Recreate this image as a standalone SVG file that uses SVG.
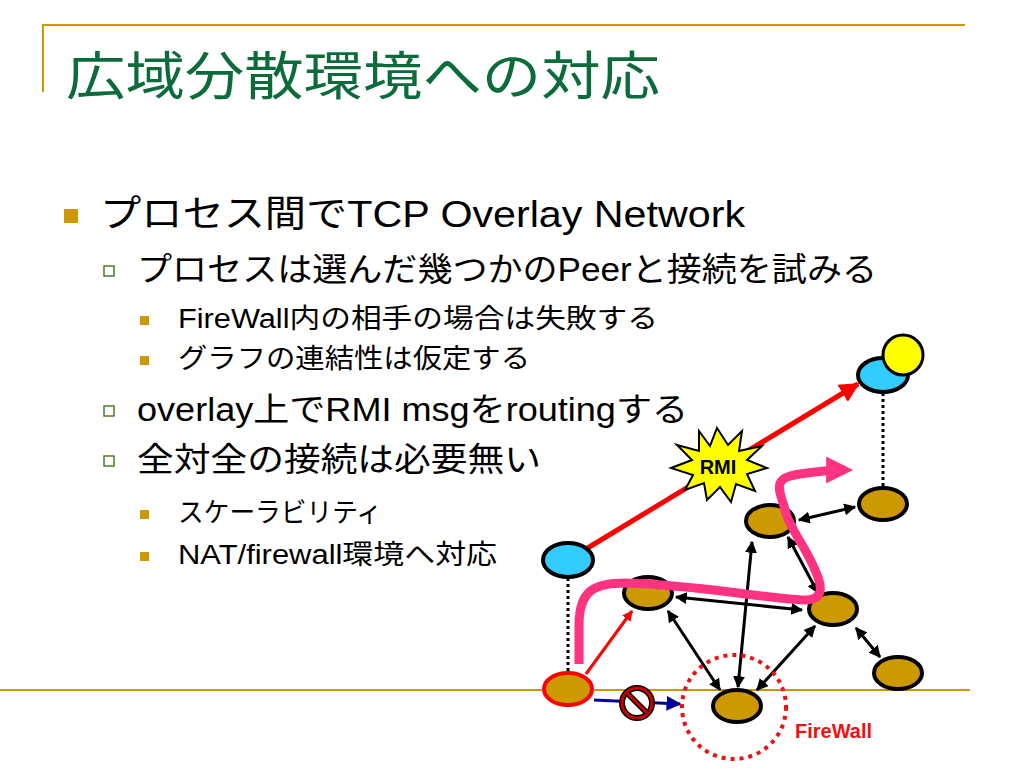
<svg xmlns="http://www.w3.org/2000/svg" width="1024" height="768" viewBox="0 0 1024 768">
<defs>
<style>
.t{font-family:"Liberation Sans","Noto Sans CJK JP",sans-serif;fill:#000}
.nd{fill:#cc9900;stroke:#000;stroke-width:4}
.bl{fill:#33ccff;stroke:#000;stroke-width:4}
.dbl{stroke:#000;stroke-width:3;fill:none;marker-start:url(#ab);marker-end:url(#ab)}
</style>
<marker id="ab" viewBox="0 0 10 10" refX="9" refY="5" markerWidth="4" markerHeight="4" orient="auto-start-reverse"><path d="M0,0L10,5L0,10z" fill="#000"/></marker>
<marker id="ar" viewBox="0 0 10 10" refX="9" refY="5" markerWidth="4" markerHeight="4" orient="auto"><path d="M0,0L10,5L0,10z" fill="#ff0000"/></marker>
<marker id="ar2" viewBox="0 0 10 10" refX="9" refY="5" markerWidth="3.5" markerHeight="3.5" orient="auto"><path d="M0,0L10,5L0,10z" fill="#ff0000"/></marker>
<marker id="ap" viewBox="0 0 10 10" refX="7" refY="5" markerWidth="3" markerHeight="3" orient="auto"><path d="M0,0L10,5L0,10z" fill="#ff3380"/></marker>
<marker id="an" viewBox="0 0 10 10" refX="9" refY="5" markerWidth="5" markerHeight="5" orient="auto"><path d="M0,0L10,5L0,10z" fill="#000099"/></marker>
</defs>
<rect width="1024" height="768" fill="#fff"/>
<g id="frame" stroke="#cc9900" stroke-width="2" fill="none">
<path d="M43,92V25H965"/>
<path d="M0,690H970"/>
</g>
<text class="t" x="66" y="95" font-size="52" textLength="594" lengthAdjust="spacingAndGlyphs" style="fill:#0b6b3a">広域分散環境への対応</text>
<g id="bullets">
<rect x="64" y="209" width="14" height="14" fill="#cc9900"/>
<text class="t" x="100" y="227" font-size="37" textLength="645" lengthAdjust="spacingAndGlyphs">プロセス間でTCP Overlay Network</text>
<rect x="104" y="266" width="10" height="10" fill="#fff" stroke="#4a7a2a" stroke-width="1.5"/>
<text class="t" x="137" y="281" font-size="33" textLength="740" lengthAdjust="spacingAndGlyphs">プロセスは選んだ幾つかのPeerと接続を試みる</text>
<rect x="140" y="316" width="9" height="9" fill="#cc9900"/>
<text class="t" x="178" y="328" font-size="27" textLength="480" lengthAdjust="spacingAndGlyphs">FireWall内の相手の場合は失敗する</text>
<rect x="140" y="356" width="9" height="9" fill="#cc9900"/>
<text class="t" x="178" y="368" font-size="27" textLength="352" lengthAdjust="spacingAndGlyphs">グラフの連結性は仮定する</text>
<rect x="104" y="406" width="10" height="10" fill="#fff" stroke="#4a7a2a" stroke-width="1.5"/>
<text class="t" x="137" y="421" font-size="33" textLength="551" lengthAdjust="spacingAndGlyphs">overlay上でRMI msgをroutingする</text>
<rect x="104" y="456" width="10" height="10" fill="#fff" stroke="#4a7a2a" stroke-width="1.5"/>
<text class="t" x="137" y="471" font-size="33" textLength="404" lengthAdjust="spacingAndGlyphs">全対全の接続は必要無い</text>
<rect x="140" y="510" width="9" height="9" fill="#cc9900"/>
<text class="t" x="178" y="522" font-size="27" textLength="204" lengthAdjust="spacingAndGlyphs">スケーラビリティ</text>
<rect x="140" y="552" width="9" height="9" fill="#cc9900"/>
<text class="t" x="178" y="564" font-size="27" textLength="319" lengthAdjust="spacingAndGlyphs">NAT/firewall環境へ対応</text>
</g>
<g id="connectors">
<path d="M883,393V487" stroke="#000" stroke-width="3" stroke-dasharray="3,3"/>
<path d="M568,578V672" stroke="#000" stroke-width="3" stroke-dasharray="3,3"/>
<path d="M586,549L858,384" stroke="#ff0000" stroke-width="5" marker-end="url(#ar)"/>
<path d="M586,674L632,611" stroke="#ff0000" stroke-width="3" marker-end="url(#ar2)"/>
<path d="M594,700L680,704" stroke="#000099" stroke-width="3" marker-end="url(#an)"/>
<path class="dbl" d="M799,520L855,507"/>
<path class="dbl" d="M752,542L738,687"/>
<path class="dbl" d="M668,611L720,690"/>
<path class="dbl" d="M815,626L757,690"/>
<path class="dbl" d="M856,628L880,657"/>
<path class="dbl" d="M676,597L802,610"/>
<path class="dbl" d="M788,537L818,593"/>
</g>
<g id="nodes">
<ellipse id="n-top" class="bl" cx="883" cy="375" rx="25" ry="17"/>
<circle id="n-yellow" cx="903" cy="355" r="20" fill="#ffff00" stroke="#000" stroke-width="3"/>
<ellipse id="n-blue" class="bl" cx="568" cy="560" rx="25" ry="17"/>
<ellipse id="n-src" cx="568" cy="689" rx="24" ry="16" fill="#cc9900" stroke="#ff0000" stroke-width="4"/>
<ellipse id="n-a" class="nd" cx="648" cy="593" rx="24" ry="16"/>
<ellipse id="n-b" class="nd" cx="770" cy="521" rx="24" ry="16"/>
<ellipse id="n-c" class="nd" cx="883" cy="504" rx="24" ry="16"/>
<ellipse id="n-d" class="nd" cx="833" cy="609" rx="24" ry="16"/>
<ellipse id="n-e" class="nd" cx="898" cy="673" rx="24" ry="16"/>
<ellipse id="n-f" class="nd" cx="737" cy="706" rx="24" ry="16"/>
</g>
<path id="route" d="M579,664V625C579,590 595,583 625,583C700,585 760,598 805,600C825,600 822,585 815,570C805,545 790,530 785,510C780,490 770,478 800,474C820,471 840,470 845,470" fill="none" stroke="#ff3380" stroke-width="9" marker-end="url(#ap)"/>
<g id="nosign">
<circle cx="637" cy="703" r="15" fill="#fff" stroke="#000" stroke-width="6"/>
<circle cx="637" cy="703" r="15" fill="none" stroke="#cc0000" stroke-width="3"/>
<path d="M627,693L647,713" stroke="#000" stroke-width="6"/>
<path d="M627,693L647,713" stroke="#cc0000" stroke-width="3"/>
</g>
<circle id="firewall" cx="734" cy="707" r="52" fill="none" stroke="#ee1111" stroke-width="4" stroke-dasharray="4,5"/>
<text class="t" x="795" y="738" font-size="20" font-weight="bold" style="fill:#ee1111">FireWall</text>
<g id="rmi">
<polygon points="717,428 728,445 742,431 739,451 762,446 747,460 767,468 747,474 755,491 736,484 731,502 720,487 707,500 704,483 685,490 693,475 671,468 692,460 677,445 699,451 699,431 710,446" fill="#ffff00" stroke="#000" stroke-width="2"/>
<text class="t" x="718" y="474" font-size="20" font-weight="bold" text-anchor="middle">RMI</text>
</g>
</svg>
